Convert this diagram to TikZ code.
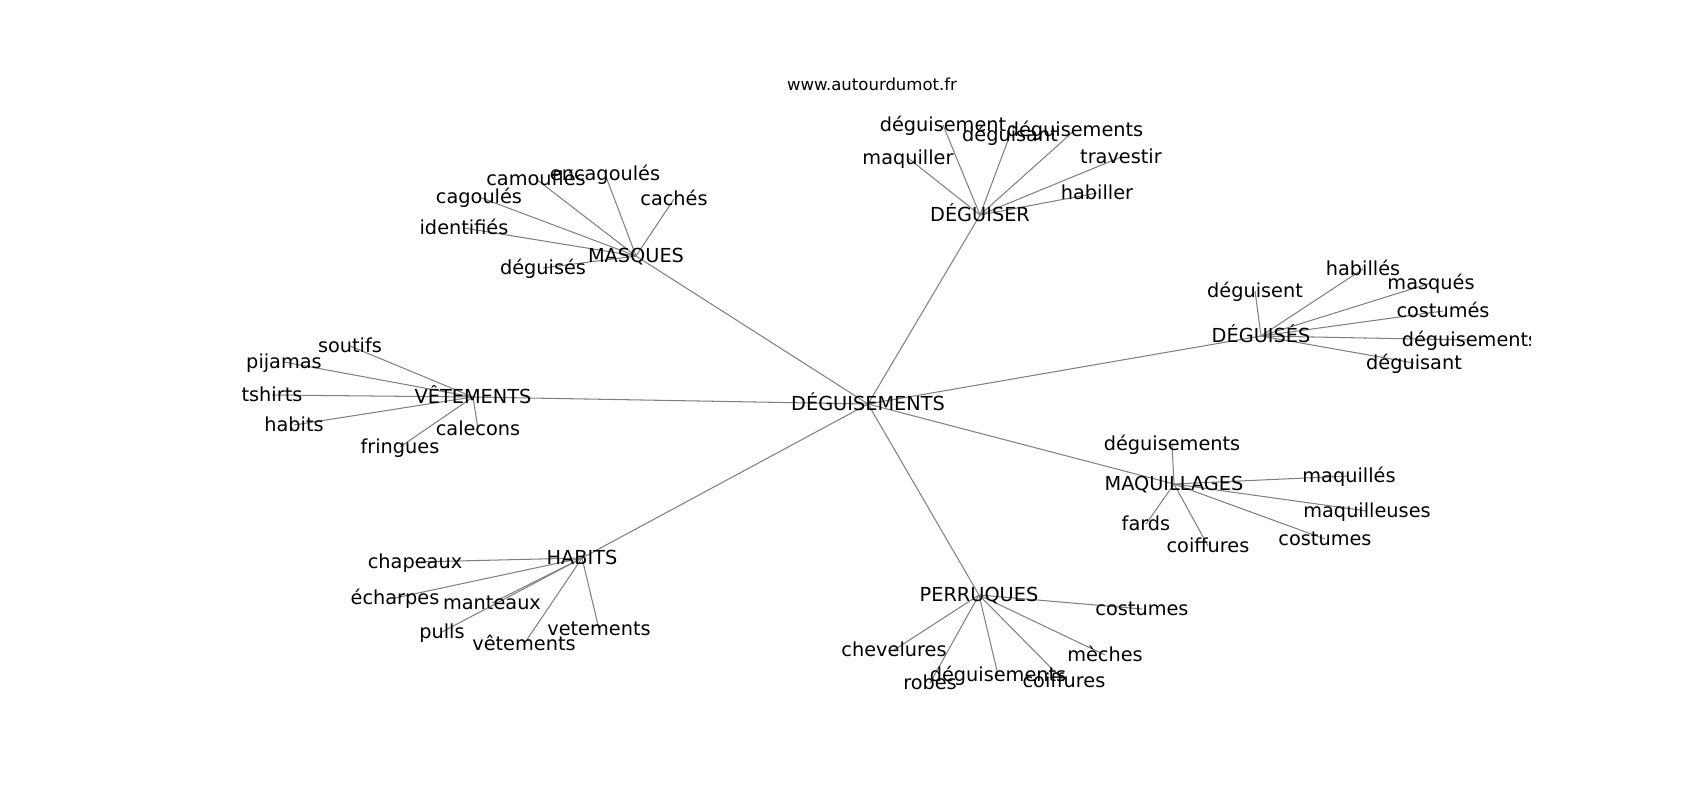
\documentclass[tikz,border=0pt]{standalone}
\usepackage{fontspec}
\setmainfont{DejaVu Sans}
\usetikzlibrary{backgrounds}
\begin{document}
\begin{tikzpicture}[x=0.72pt,y=-0.72pt,
  word/.style={inner sep=0pt,font=\fontsize{13.9}{16}\selectfont,text height=0.9em,text depth=0pt,anchor=center},
  link/.style={draw=black!50,line width=0.75pt},
  titletext/.style={inner sep=0pt,font=\fontsize{11.9}{14}\selectfont}]
\useasboundingbox (0,0) rectangle (1700,800);
\node[titletext] (title) at (872,84) {www.autourdumot.fr};
\begin{scope}
\clip (212.5,96) rectangle (1530,712);
% centre and hubs
\node[word] (c) at (868,404) {DÉGUISEMENTS};
\node[word] (mas) at (636,256) {MASQUES};
\node[word] (dgr) at (980,215) {DÉGUISER};
\node[word] (dgs) at (1261,336) {DÉGUISÉS};
\node[word] (vet) at (473,397) {VÊTEMENTS};
\node[word] (maq) at (1174,484) {MAQUILLAGES};
\node[word] (hab) at (582,558) {HABITS};
\node[word] (per) at (979,595) {PERRUQUES};
% MASQUES
\node[word] (m1) at (605,174) {encagoulés};
\node[word] (m2) at (536,179) {camouflés};
\node[word] (m3) at (479,197) {cagoulés};
\node[word] (m4) at (464,228) {identifiés};
\node[word] (m5) at (674,199) {cachés};
\node[word] (m6) at (543,268) {déguisés};
% DÉGUISER
\node[word] (d1) at (943,125) {déguisement};
\node[word] (d2) at (1010,135) {déguisant};
\node[word] (d3) at (1075,130) {déguisements};
\node[word] (d4) at (908,158) {maquiller};
\node[word] (d5) at (1121,157) {travestir};
\node[word] (d6) at (1097,193) {habiller};
% DÉGUISÉS
\node[word] (s1) at (1255,291) {déguisent};
\node[word] (s2) at (1363,269) {habillés};
\node[word] (s3) at (1431,283) {masqués};
\node[word] (s4) at (1443,311) {costumés};
\node[word] (s5) at (1470,340) {déguisements};
\node[word] (s6) at (1414,363) {déguisant};
% VÊTEMENTS
\node[word] (v1) at (350,346) {soutifs};
\node[word] (v2) at (284,362) {pijamas};
\node[word] (v3) at (272,395) {tshirts};
\node[word] (v4) at (294,425) {habits};
\node[word] (v5) at (478,429) {calecons};
\node[word] (v6) at (400,447) {fringues};
% MAQUILLAGES
\node[word] (q1) at (1172,444) {déguisements};
\node[word] (q2) at (1349,476) {maquillés};
\node[word] (q3) at (1367,511) {maquilleuses};
\node[word] (q4) at (1146,524) {fards};
\node[word] (q5) at (1208,546) {coiffures};
\node[word] (q6) at (1325,539) {costumes};
% HABITS
\node[word] (h1) at (415,562) {chapeaux};
\node[word] (h2) at (395,598) {écharpes};
\node[word] (h3) at (492,603) {manteaux};
\node[word] (h4) at (442,632) {pulls};
\node[word] (h5) at (524,644) {vêtements};
\node[word] (h6) at (599,629) {vetements};
% PERRUQUES
\node[word] (p1) at (1142,609) {costumes};
\node[word] (p2) at (894,650) {chevelures};
\node[word] (p3) at (1105,655) {mèches};
\node[word] (p4) at (998,675) {déguisements};
\node[word] (p5) at (930,683) {robes};
\node[word] (p6) at (1064,681) {coiffures};
\end{scope}
\begin{pgfonlayer}{background}
\foreach \h in {mas,dgr,dgs,vet,maq,hab,per}
  \draw[link] (c.center) -- (\h.center);
\foreach \l in {m1,m2,m3,m4,m5,m6}
  \draw[link] (mas.center) -- (\l.center);
\foreach \l in {d1,d2,d3,d4,d5,d6}
  \draw[link] (dgr.center) -- (\l.center);
\foreach \l in {s1,s2,s3,s4,s5,s6}
  \draw[link] (dgs.center) -- (\l.center);
\foreach \l in {v1,v2,v3,v4,v5,v6}
  \draw[link] (vet.center) -- (\l.center);
\foreach \l in {q1,q2,q3,q4,q5,q6}
  \draw[link] (maq.center) -- (\l.center);
\foreach \l in {h1,h2,h3,h4,h5,h6}
  \draw[link] (hab.center) -- (\l.center);
\foreach \l in {p1,p2,p3,p4,p5,p6}
  \draw[link] (per.center) -- (\l.center);
\end{pgfonlayer}
\end{tikzpicture}
\end{document}
